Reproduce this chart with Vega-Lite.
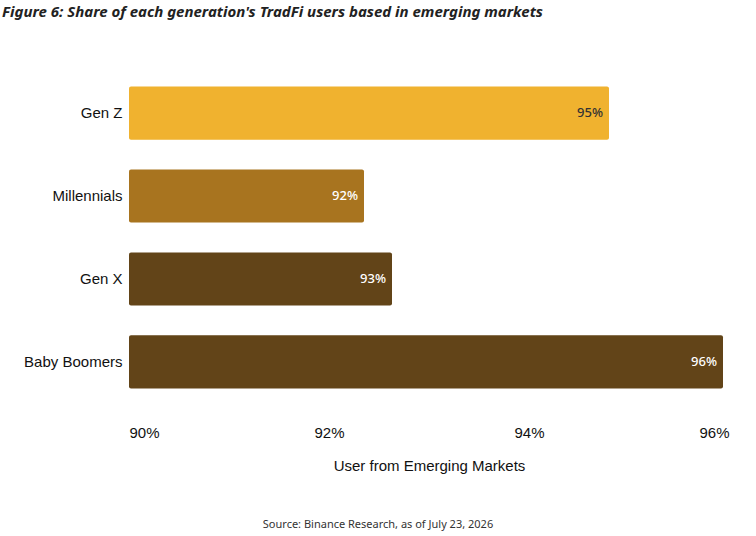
{
  "$schema": "https://vega.github.io/schema/vega-lite/v6.json",
  "width": 600,
  "height": 335,
  "autosize": "none",
  "padding": {"left": 129, "top": 70, "right": 27, "bottom": 131},
  "background": "white",
  "title": {
    "text": "Figure 6: Share of each generation's TradFi users based in emerging markets",
    "anchor": "start",
    "frame": "group",
    "dx": -127,
    "offset": 50,
    "font": "Noto Sans",
    "fontStyle": "italic",
    "fontWeight": "bold",
    "fontSize": 15,
    "color": "#222"
  },
  "data": {
    "values": [
      {"gen": "Gen Z", "share": 94.8, "label": "95%"},
      {"gen": "Millennials", "share": 92.35, "label": "92%"},
      {"gen": "Gen X", "share": 92.63, "label": "93%"},
      {"gen": "Baby Boomers", "share": 95.94, "label": "96%"}
    ]
  },
  "encoding": {
    "y": {
      "field": "gen",
      "type": "nominal",
      "sort": null,
      "scale": {"paddingInner": 0.36, "paddingOuter": 0.2},
      "axis": {"title": null, "domain": false, "ticks": false, "labelFont": "Liberation Sans", "labelFontSize": 15, "labelColor": "#111", "labelPadding": 7}
    }
  },
  "layer": [
    {
      "mark": {"type": "bar", "cornerRadius": 2, "clip": true},
      "encoding": {
        "x": {
          "field": "share",
          "type": "quantitative",
          "scale": {"domain": [90, 96], "zero": false},
          "axis": {
            "values": [90, 92, 94, 96],
            "labelExpr": "datum.value + '%'",
            "grid": false, "domain": false, "ticks": false,
            "labelFont": "Liberation Sans", "labelFontSize": 15, "labelColor": "#111",
            "labelPadding": 20,
            "title": "User from Emerging Markets",
            "titleFont": "Liberation Sans", "titleFontSize": 15, "titleFontWeight": "normal", "titleColor": "#111",
            "titlePadding": 18
          }
        },
        "x2": {"datum": 90},
        "color": {
          "field": "gen",
          "type": "nominal",
          "scale": {"domain": ["Gen Z", "Millennials", "Gen X", "Baby Boomers"], "range": ["#F0B22F", "#A8741F", "#624418", "#624418"]},
          "legend": null
        }
      }
    },
    {
      "mark": {"type": "text", "align": "right", "dx": -6, "font": "Noto Sans", "fontSize": 13, "fontWeight": 500},
      "encoding": {
        "x": {"field": "share", "type": "quantitative"},
        "text": {"field": "label"},
        "color": {"condition": {"test": "datum.gen == 'Gen Z'", "value": "#333"}, "value": "white"}
      }
    },
    {
      "data": {"values": [{"gen": "Baby Boomers", "note": "Source: Binance Research, as of July 23, 2026"}]},
      "mark": {"type": "text", "dy": 163, "font": "Noto Sans", "fontSize": 11, "color": "#333"},
      "encoding": {
        "x": {"datum": 92.49},
        "text": {"field": "note"}
      }
    }
  ],
  "config": {"view": {"stroke": null}}
}
